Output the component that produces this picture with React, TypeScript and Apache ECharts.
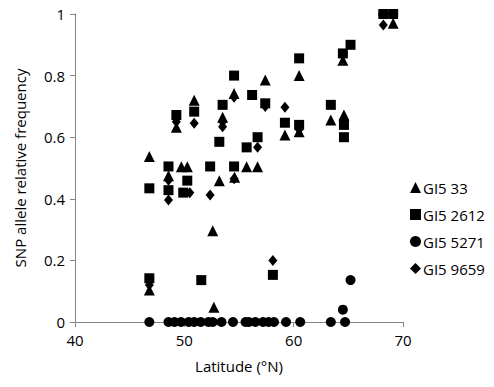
import React, { useEffect, useRef } from "react";
import * as echarts from "echarts";

const seriesNames = ["GI5 33", "GI5 2612", "GI5 5271", "GI5 9659"];

// [latitude, relative frequency]
const gi5_33: number[][] = [
  [46.8, 0.537], [46.8, 0.104], [48.55, 0.475], [49.27, 0.632], [49.73, 0.504],
  [50.27, 0.504], [50.9, 0.72], [52.6, 0.296], [52.7, 0.048], [53.2, 0.459],
  [53.5, 0.665], [54.55, 0.742], [54.6, 0.47], [55.7, 0.504], [56.7, 0.504],
  [57.4, 0.786], [59.2, 0.607], [60.5, 0.8], [60.5, 0.618], [63.4, 0.656],
  [64.6, 0.672], [64.5, 0.85], [69.1, 0.97],
];
const gi5_2612: number[][] = [
  [46.8, 0.434], [46.8, 0.142], [48.55, 0.505], [48.55, 0.428], [49.27, 0.672],
  [49.9, 0.42], [50.27, 0.459], [50.9, 0.683], [51.55, 0.136], [52.36, 0.505],
  [53.2, 0.585], [53.5, 0.705], [54.55, 0.8], [54.55, 0.505], [55.7, 0.567],
  [56.2, 0.737], [56.7, 0.6], [57.4, 0.71], [58.1, 0.153], [59.2, 0.647],
  [60.5, 0.856], [60.5, 0.64], [63.4, 0.705], [64.6, 0.64], [64.6, 0.6],
  [64.5, 0.872], [65.2, 0.9], [68.2, 1.0], [69.1, 1.0],
];
const gi5_5271: number[][] = [
  [46.8, 0], [48.55, 0], [49.1, 0], [49.7, 0], [50.4, 0], [50.9, 0], [51.5, 0],
  [52.2, 0], [52.6, 0], [53.4, 0], [54.45, 0], [55.6, 0], [55.9, 0], [56.5, 0],
  [57.2, 0], [57.7, 0], [58.2, 0], [59.3, 0], [60.6, 0], [63.4, 0], [64.7, 0],
  [64.5, 0.04], [65.2, 0.136], [68.2, 1.0], [69.1, 1.0],
];
const gi5_9659: number[][] = [
  [46.8, 0.12], [48.55, 0.396], [48.55, 0.46], [49.27, 0.65], [50.5, 0.42],
  [50.9, 0.645], [52.36, 0.412], [53.5, 0.634], [53.5, 0.65], [54.55, 0.73],
  [54.55, 0.465], [56.7, 0.567], [57.4, 0.7], [58.1, 0.2], [59.2, 0.697],
  [60.5, 0.625], [68.2, 0.964],
];

const xTicks = { min: 40, max: 70, interval: 10 };
const yTicks = { min: 0, max: 1, interval: 0.2 };

const FONT = "Open Sans";

export default function App() {
  const ref = useRef<HTMLDivElement>(null);
  useEffect(() => {
    if (!ref.current) return;
    const chart = echarts.init(ref.current, null, { renderer: "svg" });
    const axisCommon = {
      axisLine: { show: true, lineStyle: { color: "#868686", width: 1 } },
      axisTick: { show: true, length: 5, lineStyle: { color: "#868686" } },
      splitLine: { show: false },
      axisLabel: { color: "#000", fontSize: 15, fontFamily: FONT },
      nameTextStyle: { color: "#000", fontSize: 15, fontFamily: FONT },
    };
    const mk = (name: string, data: number[][], symbol: string, size: any) => ({
      type: "scatter",
      name,
      data,
      symbol,
      symbolSize: size,
      itemStyle: { color: "#000", opacity: 1 },
    });
    chart.setOption({
      animation: false,
      textStyle: { fontFamily: FONT },
      grid: { left: 75, right: 91, top: 14, bottom: 65 },
      xAxis: {
        type: "value",
        ...xTicks,
        name: "Latitude (°N)",
        nameLocation: "middle",
        nameGap: 36,
        ...axisCommon,
        axisLabel: { ...axisCommon.axisLabel, margin: 10 },
      },
      yAxis: {
        type: "value",
        ...yTicks,
        name: "SNP allele relative frequency",
        nameLocation: "middle",
        nameGap: 48,
        ...axisCommon,
        axisLabel: { ...axisCommon.axisLabel, margin: 10 },
      },
      legend: {
        orient: "vertical",
        left: 405,
        top: 175,
        itemGap: 12,
        itemWidth: 11,
        itemHeight: 11,
        textStyle: { color: "#000", fontSize: 15, fontFamily: FONT, padding: [0, 0, 0, -3] },
        data: seriesNames.map((n) => ({ name: n, itemStyle: { opacity: 1 } })),
      },
      series: [
        mk(seriesNames[0], gi5_33, "triangle", 11),
        mk(seriesNames[1], gi5_2612, "rect", 10),
        mk(seriesNames[2], gi5_5271, "circle", 10),
        mk(seriesNames[3], gi5_9659, "diamond", [9, 11]),
      ],
    });
    return () => chart.dispose();
  }, []);
  return <div ref={ref} style={{ width: 494, height: 387, margin: -8 }} />;
}
